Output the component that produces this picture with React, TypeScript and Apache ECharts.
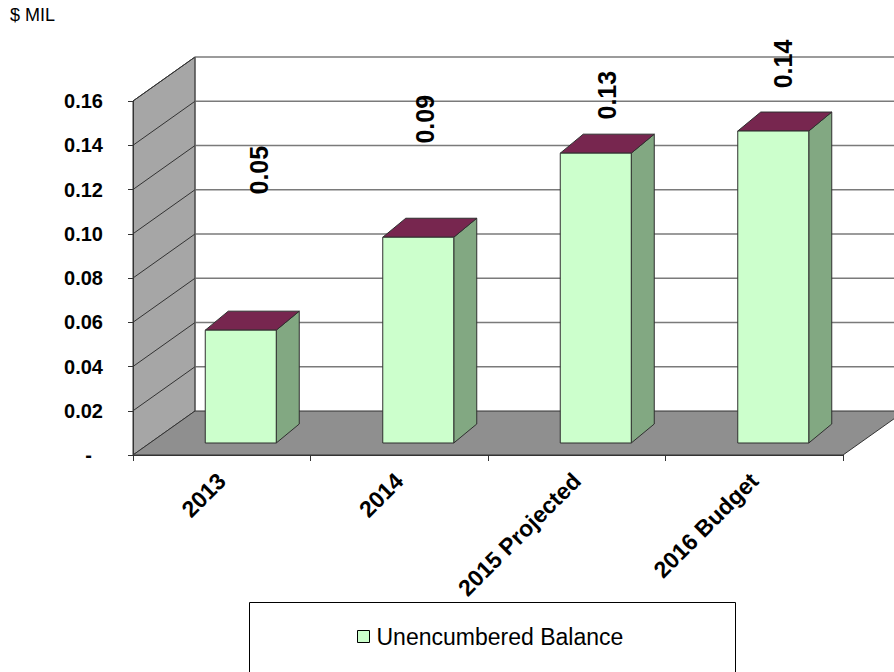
import React, { useEffect, useRef } from "react";
import * as echarts from "echarts";

// Fiscal periods shown on the category axis
const categories = ["2013", "2014", "2015 Projected", "2016 Budget"];
// Unencumbered balance, in $ millions
const balances = [0.051, 0.093, 0.131, 0.141];
const seriesName = "Unencumbered Balance";

// Value axis range
const yMin = 0;
const yMax = 0.16;
const yStep = 0.02;

// Pixel layout of the pseudo-3D box and of the value labels
const WALL_DEPTH = [62, -44];
const BAR_FRONT = [19, -12];
const BAR_DEPTH = [23, -19];
const labelLift = [160, 118, 58, 67];
const labelShift = [18, 7, 11, 10];

const FONT = "'Liberation Sans', Arial, Helvetica, sans-serif";

const yTicks: number[] = [];
for (let v = yMin; v <= yMax + 1e-9; v += yStep) yTicks.push(+v.toFixed(4));

export default function App() {
  const ref = useRef<HTMLDivElement>(null);

  useEffect(() => {
    if (!ref.current) return;
    const chart = echarts.init(ref.current, undefined, { renderer: "svg" });
    const [dx, dy] = WALL_DEPTH;

    const option: any = {
      animation: false,
      backgroundColor: "#ffffff",
      title: {
        text: "$ MIL",
        left: 10,
        top: 6,
        padding: 0,
        textStyle: { fontFamily: FONT, fontSize: 18, fontWeight: "normal", color: "#000" },
      },
      grid: { left: 133, right: 51, top: 101, bottom: 217, containLabel: false },
      legend: {
        data: [
          {
            name: seriesName,
            icon: "rect",
            itemStyle: { color: "#ccffcc", borderColor: "#000", borderWidth: 1 },
          },
        ],
        left: 357,
        top: 625,
        itemWidth: 12,
        itemHeight: 12,
        itemGap: 4,
        padding: 0,
        selectedMode: false,
        textStyle: { fontFamily: FONT, fontSize: 23, color: "#000", padding: [0, 0, 0, 2] },
      },
      graphic: [
        {
          type: "rect",
          z: -1,
          shape: { x: 249.5, y: 602.5, width: 486, height: 90 },
          style: { fill: "#fff", stroke: "#000", lineWidth: 1 },
        },
      ],
      xAxis: {
        type: "category",
        data: categories,
        boundaryGap: true,
        axisLine: { show: true, lineStyle: { color: "#333", width: 1 } },
        axisTick: { show: true, length: 6, lineStyle: { color: "#333" } },
        axisLabel: {
          interval: 0,
          rotate: 45,
          margin: 22,
          fontFamily: FONT,
          fontSize: 23,
          fontWeight: "bold",
          color: "#000",
        },
        splitLine: { show: false },
        z: 5,
      },
      yAxis: {
        type: "value",
        min: yMin,
        max: yMax,
        interval: yStep,
        axisLine: { show: true, lineStyle: { color: "#333", width: 1 } },
        axisTick: { show: true, length: 5, lineStyle: { color: "#333" } },
        axisLabel: {
          margin: 30,
          fontFamily: FONT,
          fontSize: 20,
          fontWeight: "bold",
          color: "#000",
          formatter: (v: number) => (v === 0 ? "-  " : v.toFixed(2)),
        },
        splitLine: { show: false },
        z: 5,
      },
      series: [
        {
          // walls, floor and the gridlines of the back wall
          type: "custom",
          name: "scene",
          silent: true,
          z: 1,
          clip: false,
          data: [[0, 0]],
          renderItem: (params: any, api: any) => {
            const cs = params.coordSys;
            const x0 = cs.x;
            const x1 = cs.x + cs.width;
            const y0 = api.coord([0, yMin])[1];
            const yTop = api.coord([0, yMax])[1];
            const children: any[] = [];
            // back wall
            children.push({
              type: "polygon",
              shape: {
                points: [
                  [x0 + dx, yTop + dy],
                  [x1 + dx, yTop + dy],
                  [x1 + dx, y0 + dy],
                  [x0 + dx, y0 + dy],
                ],
              },
              style: { fill: "#ffffff", stroke: "none" },
            });
            // left wall
            children.push({
              type: "polygon",
              shape: {
                points: [
                  [x0, y0],
                  [x0, yTop],
                  [x0 + dx, yTop + dy],
                  [x0 + dx, y0 + dy],
                ],
              },
              style: { fill: "#a6a6a6", stroke: "#333", lineWidth: 1 },
            });
            // floor
            children.push({
              type: "polygon",
              shape: {
                points: [
                  [x0, y0],
                  [x1, y0],
                  [x1 + dx, y0 + dy],
                  [x0 + dx, y0 + dy],
                ],
              },
              style: { fill: "#8f8f8f", stroke: "#333", lineWidth: 1 },
            });
            yTicks.forEach((v) => {
              const y = api.coord([0, v])[1];
              if (v > yMin) {
                // gridline across the back wall
                children.push({
                  type: "line",
                  shape: { x1: x0 + dx, y1: y + dy, x2: x1 + dx, y2: y + dy },
                  style: { stroke: "#7a7a7a", lineWidth: 1.5 },
                });
                // matching line on the left wall
                children.push({
                  type: "line",
                  shape: { x1: x0, y1: y, x2: x0 + dx, y2: y + dy },
                  style: { stroke: "#333", lineWidth: 1 },
                });
              }
            });
            // back wall left edge
            children.push({
              type: "line",
              shape: { x1: x0 + dx, y1: yTop + dy, x2: x0 + dx, y2: y0 + dy },
              style: { stroke: "#555", lineWidth: 1 },
            });
            return { type: "group", children };
          },
        },
        {
          type: "custom",
          name: seriesName,
          z: 3,
          clip: false,
          itemStyle: { color: "#ccffcc", borderColor: "#000" },
          encode: { x: 0, y: 1 },
          data: balances.map((v, i) => [i, v]),
          renderItem: (params: any, api: any) => {
            const i = api.value(0);
            const v = api.value(1);
            const base = api.coord([i, 0]);
            const topPt = api.coord([i, v]);
            const barW = api.size([1, 0])[0] * 0.4;
            const left = base[0] - barW / 2 + BAR_FRONT[0];
            const right = left + barW;
            const bottom = base[1] + BAR_FRONT[1];
            const top = bottom - (base[1] - topPt[1]);
            const [bx, by] = BAR_DEPTH;
            const edge = { stroke: "#2f2f2f", lineWidth: 1 };
            const idx = params.dataIndex;
            return {
              type: "group",
              children: [
                {
                  type: "polygon",
                  shape: {
                    points: [
                      [right, bottom],
                      [right, top],
                      [right + bx, top + by],
                      [right + bx, bottom + by],
                    ],
                  },
                  style: { fill: "#82a882", ...edge },
                },
                {
                  type: "polygon",
                  shape: {
                    points: [
                      [left, top],
                      [right, top],
                      [right + bx, top + by],
                      [left + bx, top + by],
                    ],
                  },
                  style: { fill: "#77264f", ...edge },
                },
                {
                  type: "rect",
                  shape: { x: left, y: top, width: barW, height: bottom - top },
                  style: { fill: "#ccffcc", ...edge },
                },
                {
                  type: "text",
                  x: (left + right) / 2 + labelShift[idx],
                  y: top - labelLift[idx],
                  rotation: Math.PI / 2,
                  style: {
                    text: v.toFixed(2),
                    fontFamily: FONT,
                    fontSize: 25,
                    fontWeight: "bold",
                    fill: "#000",
                    align: "center",
                    verticalAlign: "middle",
                  },
                },
              ],
            };
          },
        },
      ],
    };

    chart.setOption(option);
    return () => chart.dispose();
  }, []);

  return (
    <div
      ref={ref}
      style={{ position: "fixed", left: 0, top: 0, width: 894, height: 672 }}
    />
  );
}
